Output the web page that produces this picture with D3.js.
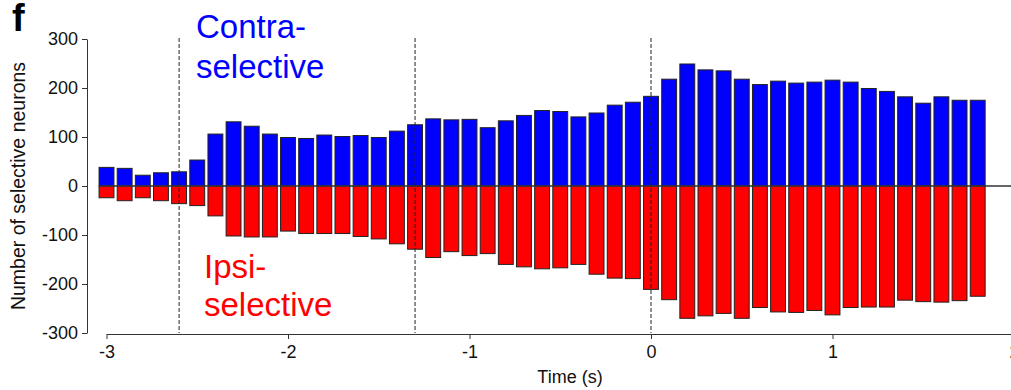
<!DOCTYPE html>
<html>
<head>
<meta charset="utf-8">
<script src="https://cdn.jsdelivr.net/npm/d3@7"></script>
<style>
body { margin: 0; background: #fff; }
svg { display: block; font-family: Arial, "Liberation Sans", sans-serif; }
</style>
</head>
<body>
<svg></svg>
<script>
var width = 1011;
var height = 390;

// bin centres (s)
var times = d3.range(49).map(i => +(-3 + i * 0.1).toFixed(1));
var contra = [38, 36, 22, 27, 29, 53, 106, 131, 122, 106,
              99, 97, 104, 101, 103, 99, 112, 125, 137, 135,
              136, 119, 133, 144, 154, 152, 141, 149, 165, 171,
              183, 218, 249, 237, 235, 218, 207, 214, 210, 212,
              216, 212, 199, 193, 182, 169, 182, 175, 175];
var ipsi = [-24, -30, -24, -30, -36, -40, -61, -102, -104, -104,
            -92, -97, -97, -97, -103, -108, -118, -129, -146, -134,
            -142, -138, -160, -165, -169, -167, -160, -180, -188, -189,
            -211, -232, -270, -265, -260, -270, -248, -257, -258, -254,
            -263, -248, -247, -247, -233, -236, -237, -234, -225];
var eventTimes = [-2.6, -1.3, 0];
var xTicks = [-3, -2, -1, 0, 1, 2];
var yTicks = [-300, -200, -100, 0, 100, 200, 300];

var svg = d3.select("svg")
	.attr("width", width)
	.attr("height", height);

var x = d3.scaleLinear().domain([-3, 2]).range([106.5, 1014]);
var y = d3.scaleLinear().domain([-300, 300]).range([333, 39]);
var halfBar = 0.041;

// y axis
var yAxis = svg.append("g")
	.attr("transform", "translate(87,0)")
	.call(d3.axisLeft(y).tickValues(yTicks).tickFormat(d => String(d))
		.tickSize(5).tickPadding(4).tickSizeOuter(0));
yAxis.selectAll("text").style("font-size", "18px").attr("fill", "#111");
yAxis.selectAll("line, path").attr("stroke", "#333");

// x axis
var xAxis = svg.append("g")
	.attr("transform", "translate(0,334)")
	.call(d3.axisBottom(x).tickValues(xTicks).tickFormat(d => String(d))
		.tickSize(5).tickPadding(6).tickSizeOuter(0));
xAxis.selectAll("text").style("font-size", "18px").attr("fill", "#111");
xAxis.selectAll("line, path").attr("stroke", "#333");

// bars
svg.selectAll("rect.contra")
	.data(times)
	.enter()
	.append("rect")
	.classed("contra", true)
	.attr("x", d => x(d - halfBar))
	.attr("width", d => x(d + halfBar) - x(d - halfBar))
	.attr("y", (d, i) => y(contra[i]))
	.attr("height", (d, i) => y(0) - y(contra[i]))
	.attr("fill", "#0000ff")
	.attr("stroke", "#222")
	.attr("stroke-width", 1);

svg.selectAll("rect.ipsi")
	.data(times)
	.enter()
	.append("rect")
	.classed("ipsi", true)
	.attr("x", d => x(d - halfBar))
	.attr("width", d => x(d + halfBar) - x(d - halfBar))
	.attr("y", y(0))
	.attr("height", (d, i) => y(ipsi[i]) - y(0))
	.attr("fill", "#ff0000")
	.attr("stroke", "#222")
	.attr("stroke-width", 1);

// zero line
svg.append("line")
	.attr("x1", x(-3 - halfBar))
	.attr("x2", width)
	.attr("y1", y(0))
	.attr("y2", y(0))
	.attr("stroke", "#333")
	.attr("stroke-width", 1.5);

// event markers
svg.selectAll("line.event")
	.data(eventTimes)
	.enter()
	.append("line")
	.classed("event", true)
	.attr("x1", d => x(d))
	.attr("x2", d => x(d))
	.attr("y1", 38)
	.attr("y2", 333)
	.attr("stroke", "#222")
	.attr("stroke-width", 1)
	.attr("stroke-dasharray", "4,2");

// labels
svg.append("text")
	.attr("x", 12)
	.attr("y", 31)
	.style("font-size", "38px")
	.style("font-weight", "bold")
	.text("f");

svg.append("text")
	.attr("transform", "translate(25,186) rotate(-90)")
	.style("text-anchor", "middle")
	.style("font-size", "19.5px")
	.attr("fill", "#111")
	.text("Number of selective neurons");

svg.append("text")
	.attr("x", 570)
	.attr("y", 383)
	.style("text-anchor", "middle")
	.style("font-size", "18px")
	.attr("fill", "#111")
	.text("Time (s)");

var contraLabel = svg.append("text")
	.attr("fill", "#0000ff")
	.style("font-size", "33px");
contraLabel.append("tspan").attr("x", 196).attr("y", 38).text("Contra-");
contraLabel.append("tspan").attr("x", 196).attr("y", 78).text("selective");

var ipsiLabel = svg.append("text")
	.attr("fill", "#ff0000")
	.style("font-size", "33px");
ipsiLabel.append("tspan").attr("x", 204).attr("y", 278).text("Ipsi-");
ipsiLabel.append("tspan").attr("x", 204).attr("y", 316).text("selective");
</script>
</body>
</html>
